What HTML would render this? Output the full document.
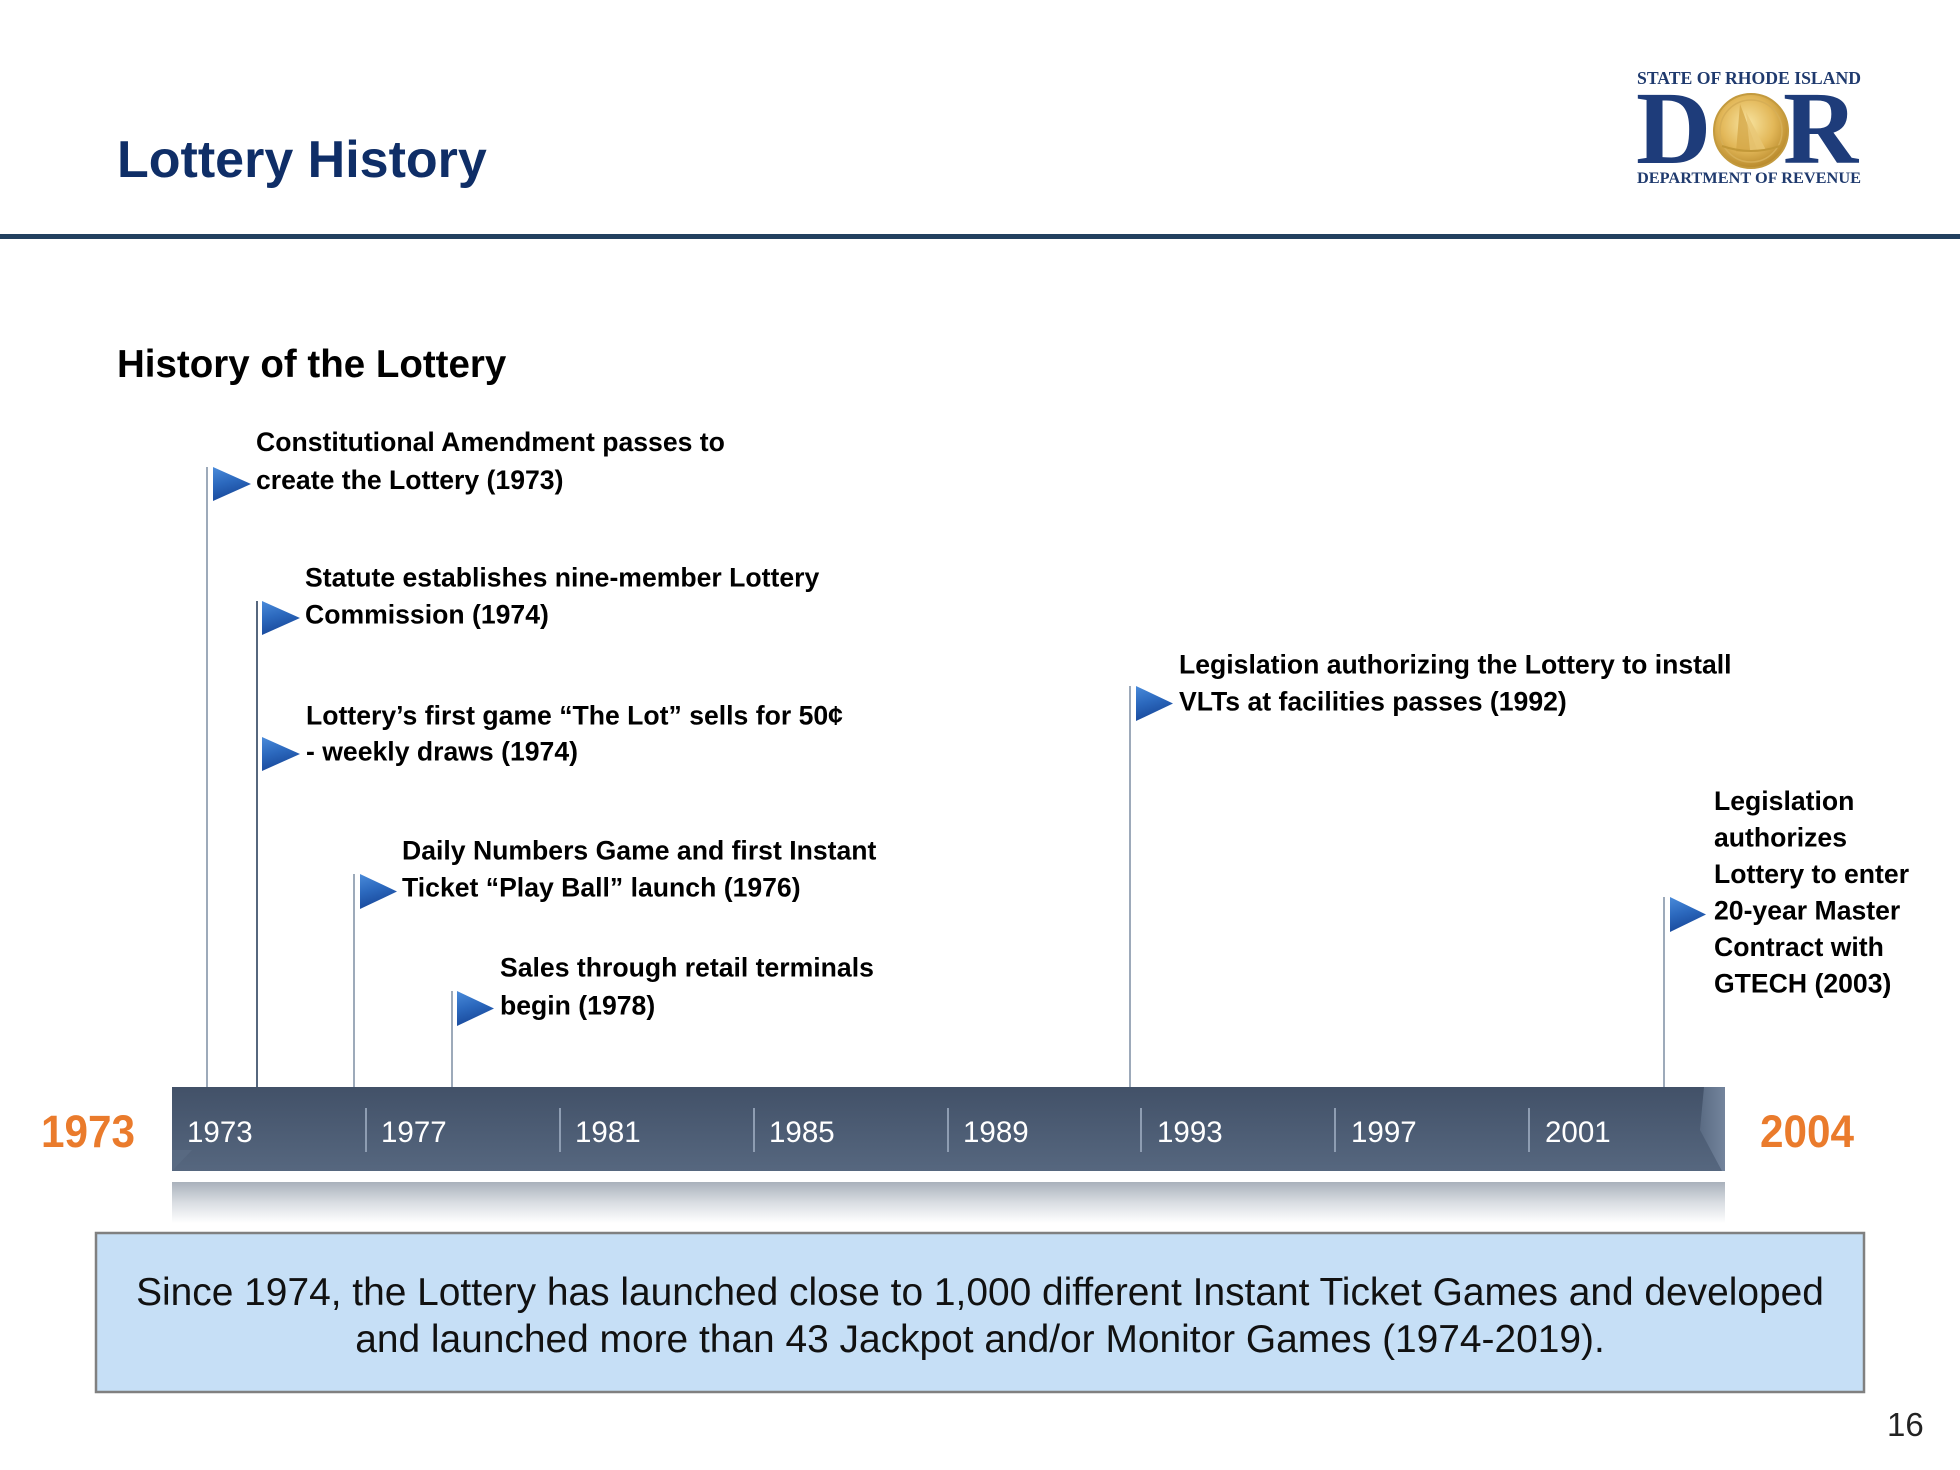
<!DOCTYPE html>
<html>
<head>
<meta charset="utf-8">
<style>
  html,body{margin:0;padding:0;background:#fff;}
  body{width:1960px;height:1470px;overflow:hidden;}
  svg{display:block;}
</style>
</head>
<body>
<svg width="1960" height="1470" viewBox="0 0 1960 1470" xmlns="http://www.w3.org/2000/svg">
  <defs>
    <linearGradient id="bar" x1="0" y1="0" x2="0" y2="1">
      <stop offset="0" stop-color="#425168"/>
      <stop offset="1" stop-color="#56677F"/>
    </linearGradient>
    <linearGradient id="refl" x1="0" y1="0" x2="0" y2="1">
      <stop offset="0" stop-color="#A9B1BB"/>
      <stop offset="0.5" stop-color="#D9DDE2"/>
      <stop offset="1" stop-color="#FFFFFF"/>
    </linearGradient>
    <linearGradient id="flag" x1="0" y1="0" x2="0.3" y2="1">
      <stop offset="0" stop-color="#4A8BDA"/>
      <stop offset="0.5" stop-color="#2C69BE"/>
      <stop offset="1" stop-color="#18489A"/>
    </linearGradient>
    <linearGradient id="bevel" x1="0" y1="0" x2="1" y2="0">
      <stop offset="0" stop-color="#5A6B83"/>
      <stop offset="1" stop-color="#74859D"/>
    </linearGradient>
    <radialGradient id="coin" cx="0.45" cy="0.4" r="0.6">
      <stop offset="0" stop-color="#F8E4A0"/>
      <stop offset="0.6" stop-color="#E2B758"/>
      <stop offset="1" stop-color="#B98A2C"/>
    </radialGradient>
  </defs>

  <!-- Header -->
  <text x="117" y="177" font-family="Liberation Sans, Arial, sans-serif" font-weight="bold" font-size="52" fill="#0F2E67">Lottery History</text>
  <rect x="0" y="234" width="1960" height="5" fill="#22405F"/>

  <!-- Logo -->
  <text x="1637" y="84" font-family="Liberation Serif, Times New Roman, serif" font-weight="bold" font-size="17.5" fill="#1F3A6E" textLength="224" lengthAdjust="spacingAndGlyphs">STATE OF RHODE ISLAND</text>
  <text x="1636" y="163" font-family="Liberation Serif, Times New Roman, serif" font-weight="bold" font-size="104" fill="#1E3C7A">D</text>
  <text x="1783" y="163" font-family="Liberation Serif, Times New Roman, serif" font-weight="bold" font-size="104" fill="#1E3C7A">R</text>
  <circle cx="1751" cy="131" r="37" fill="url(#coin)" stroke="#C39A3E" stroke-width="2"/>
  <circle cx="1751" cy="131" r="31" fill="none" stroke="#D6AE56" stroke-width="1.5"/>
  <polygon points="1740,104 1758,152 1736,152" fill="#D4A848" opacity="0.8"/>
  <polygon points="1746,112 1766,150 1750,150" fill="#E8C775" opacity="0.8"/>
  <path d="M1722 146 Q1751 156 1780 146" stroke="#C29838" stroke-width="2" fill="none"/>
  <text x="1637" y="183" font-family="Liberation Serif, Times New Roman, serif" font-weight="bold" font-size="16" fill="#1F3A6E" textLength="224" lengthAdjust="spacingAndGlyphs">DEPARTMENT OF REVENUE</text>

  <!-- Subtitle -->
  <text x="117" y="377" font-family="Liberation Sans, Arial, sans-serif" font-weight="bold" font-size="38.5" fill="#000">History of the Lottery</text>

  <!-- Poles -->
  <g stroke-width="2">
    <line x1="207" y1="467" x2="207" y2="1087" stroke="#9DAABA"/>
    <line x1="257" y1="601" x2="257" y2="1087" stroke="#56677E"/>
    <line x1="354" y1="874" x2="354" y2="1087" stroke="#9DAABA"/>
    <line x1="452" y1="991" x2="452" y2="1087" stroke="#9DAABA"/>
    <line x1="1130" y1="686" x2="1130" y2="1087" stroke="#9DAABA"/>
    <line x1="1664" y1="897" x2="1664" y2="1087" stroke="#9DAABA"/>
  </g>

  <!-- Flags -->
  <g fill="url(#flag)">
    <polygon points="213,467 251,484 213,501"/>
    <polygon points="262,601 300,618 262,635"/>
    <polygon points="262,737 300,754 262,771"/>
    <polygon points="360,874 397,891.5 360,909"/>
    <polygon points="457,991 494,1008.5 457,1026"/>
    <polygon points="1136,686 1173,703.5 1136,721"/>
    <polygon points="1670,897 1706,914.5 1670,932"/>
  </g>

  <!-- Labels -->
  <g font-family="Liberation Sans, Arial, sans-serif" font-weight="bold" font-size="26.6" fill="#000">
    <text x="256" y="451">Constitutional Amendment passes to</text>
    <text x="256" y="489">create the Lottery (1973)</text>

    <text x="305" y="586.5">Statute establishes nine-member Lottery</text>
    <text x="305" y="623.5">Commission (1974)</text>

    <text x="306" y="724.5">Lottery’s first game “The Lot” sells for 50¢</text>
    <text x="306" y="760.5">- weekly draws (1974)</text>

    <text x="402" y="859.5">Daily Numbers Game and first Instant</text>
    <text x="402" y="896.5">Ticket “Play Ball” launch (1976)</text>

    <text x="500" y="976.5">Sales through retail terminals</text>
    <text x="500" y="1014.5">begin (1978)</text>

    <text x="1179" y="673.5">Legislation authorizing the Lottery to install</text>
    <text x="1179" y="710.5">VLTs at facilities passes (1992)</text>

    <text x="1714" y="810">Legislation</text>
    <text x="1714" y="846.5">authorizes</text>
    <text x="1714" y="883">Lottery to enter</text>
    <text x="1714" y="919.5">20-year Master</text>
    <text x="1714" y="956">Contract with</text>
    <text x="1714" y="992.5">GTECH (2003)</text>
  </g>

  <!-- Timeline bar -->
  <rect x="172" y="1087" width="1553" height="84" fill="url(#bar)"/>
  <polygon points="172,1171 172,1150 192,1150 172,1171" fill="#5B6C84" opacity="0.7"/>
  <polygon points="1704,1087 1725,1087 1725,1171 1722,1171 1700,1130" fill="url(#bevel)"/>
  <rect x="172" y="1182" width="1553" height="41" fill="url(#refl)"/>

  <g stroke="#8E9DB2" stroke-width="2">
    <line x1="366" y1="1108" x2="366" y2="1152"/>
    <line x1="560" y1="1108" x2="560" y2="1152"/>
    <line x1="754" y1="1108" x2="754" y2="1152"/>
    <line x1="948" y1="1108" x2="948" y2="1152"/>
    <line x1="1141" y1="1108" x2="1141" y2="1152"/>
    <line x1="1335" y1="1108" x2="1335" y2="1152"/>
    <line x1="1529" y1="1108" x2="1529" y2="1152"/>
  </g>

  <g font-family="Liberation Sans, Arial, sans-serif" font-size="29.5" fill="#FFFFFF">
    <text x="187" y="1142">1973</text>
    <text x="381" y="1142">1977</text>
    <text x="575" y="1142">1981</text>
    <text x="769" y="1142">1985</text>
    <text x="963" y="1142">1989</text>
    <text x="1157" y="1142">1993</text>
    <text x="1351" y="1142">1997</text>
    <text x="1545" y="1142">2001</text>
  </g>

  <g font-family="Liberation Sans, Arial, sans-serif" font-weight="bold" font-size="45" fill="#EA7B2C">
    <text x="41" y="1147" textLength="94" lengthAdjust="spacingAndGlyphs">1973</text>
    <text x="1760" y="1147" textLength="94" lengthAdjust="spacingAndGlyphs">2004</text>
  </g>

  <!-- Bottom box -->
  <rect x="96" y="1233" width="1768" height="159" fill="#C6DFF6" stroke="#808080" stroke-width="2.5"/>
  <g font-family="Liberation Sans, Arial, sans-serif" font-size="38.9" fill="#111" text-anchor="middle">
    <text x="980" y="1305">Since 1974, the Lottery has launched close to 1,000 different Instant Ticket Games and developed</text>
    <text x="980" y="1352">and launched more than 43 Jackpot and/or Monitor Games (1974-2019).</text>
  </g>

  <!-- Page number -->
  <text x="1887" y="1436" font-family="Liberation Sans, Arial, sans-serif" font-size="33" fill="#222">16</text>
</svg>
</body>
</html>
